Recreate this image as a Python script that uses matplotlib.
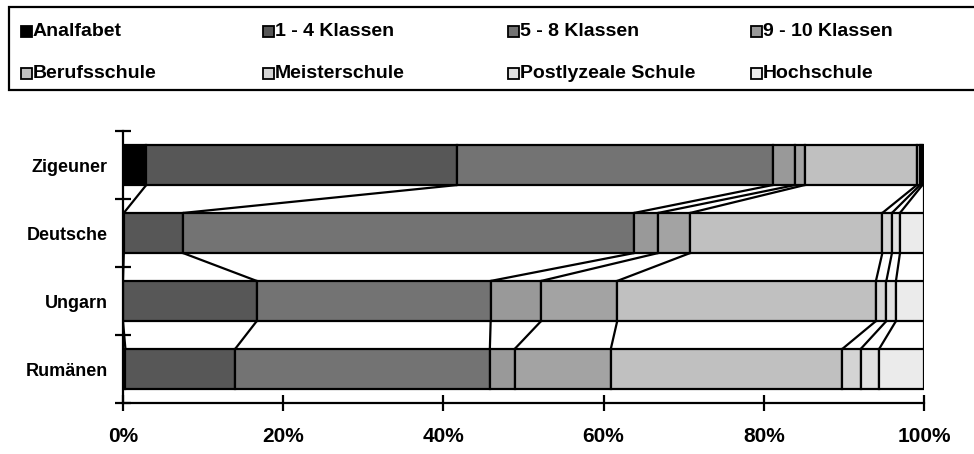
import numpy as np
import matplotlib.pyplot as plt
from matplotlib.patches import Rectangle

plt.rcParams['font.family'] = ['Liberation Sans', 'DejaVu Sans']
plt.rcParams['font.weight'] = 'bold'

groups = ['Zigeuner', 'Deutsche', 'Ungarn', 'Rumänen']

# shares in percent, one list per school level
analfabet = [2.9, 0.1, 0.0, 0.3]
kl_1_4 = [38.8, 7.4, 16.7, 13.7]
kl_5_8 = [39.4, 56.3, 29.2, 31.8]
kl_9_10 = [2.8, 3.0, 6.3, 3.1]
lyzeum = [1.2, 4.0, 9.5, 12.0]
berufsschule = [14.0, 24.0, 32.3, 28.9]
meisterschule = [0.4, 1.2, 1.3, 2.3]
postlyzeal = [0.3, 1.0, 1.2, 2.3]
hochschule = [0.2, 3.0, 3.5, 5.6]

series = [analfabet, kl_1_4, kl_5_8, kl_9_10, lyzeum,
          berufsschule, meisterschule, postlyzeal, hochschule]
colors = ['#000000', '#575757', '#737373', '#999999', '#a3a3a3',
          '#c0c0c0', '#d4d4d4', '#e0e0e0', '#ebebeb']

legend_names = ['Analfabet', '1 - 4 Klassen', '5 - 8 Klassen', '9 - 10 Klassen',
                'Berufsschule', 'Meisterschule', 'Postlyzeale Schule', 'Hochschule']
legend_colors = ['#000000', '#575757', '#737373', '#999999',
                 '#c0c0c0', '#d4d4d4', '#e0e0e0', '#ebebeb']

fig = plt.figure(figsize=(9.74, 4.54), dpi=100)
ax = fig.add_axes([123 / 974, 1 - 403 / 454, 801 / 974, 272 / 454])

y = np.arange(len(groups))
h = 0.59
left = np.zeros(len(groups))
for vals, c in zip(series, colors):
    vals = np.array(vals)
    ax.barh(y, vals, height=h, left=left, color=c, edgecolor='black',
            linewidth=1.6, zorder=2)
    left = left + vals
    # series lines between neighbouring bars
    for i in range(len(groups) - 1):
        ax.plot([left[i], left[i + 1]], [y[i] + h / 2, y[i + 1] - h / 2],
                color='black', lw=1.6, zorder=3, solid_capstyle='butt')

ax.set_xlim(0, 100)
ax.set_ylim(len(groups) - 0.5, -0.5)

for s in ['top', 'right']:
    ax.spines[s].set_visible(False)
ax.spines['left'].set_linewidth(1.6)
ax.spines['bottom'].set_linewidth(1.6)

ax.set_xticks(np.arange(0, 101, 20))
ax.set_xticklabels([f'{v}%' for v in range(0, 101, 20)], fontsize=15, fontweight='bold')
ax.tick_params(axis='x', direction='inout', length=12, width=1.6, pad=11)

ax.set_yticks(np.arange(-0.5, len(groups), 1.0))
ax.set_yticklabels([])
ax.set_yticks(y, minor=True)
ax.set_yticklabels(groups, minor=True, fontsize=13, fontweight='bold')
ax.tick_params(axis='y', which='major', direction='inout', length=12, width=1.6)
ax.tick_params(axis='y', which='minor', length=0, pad=11)

# legend box
fig.patches.append(Rectangle((9 / 974, 1 - 90 / 454), 980 / 974, 83 / 454,
                             transform=fig.transFigure, facecolor='white',
                             edgecolor='black', linewidth=1.6))
col_x = [21, 263, 508, 751]
row_y = [31, 73]
for k, (name, c) in enumerate(zip(legend_names, legend_colors)):
    cx = col_x[k % 4]
    cy = row_y[k // 4]
    sw = 11
    fig.patches.append(Rectangle((cx / 974, 1 - (cy + sw / 2) / 454), sw / 974, sw / 454,
                                 transform=fig.transFigure, facecolor=c,
                                 edgecolor='black', linewidth=1.3))
    fig.text((cx + sw + 1) / 974, 1 - cy / 454, name, fontsize=14,
             fontweight='bold', va='center', ha='left')

fig.savefig('out.png', dpi=100)
